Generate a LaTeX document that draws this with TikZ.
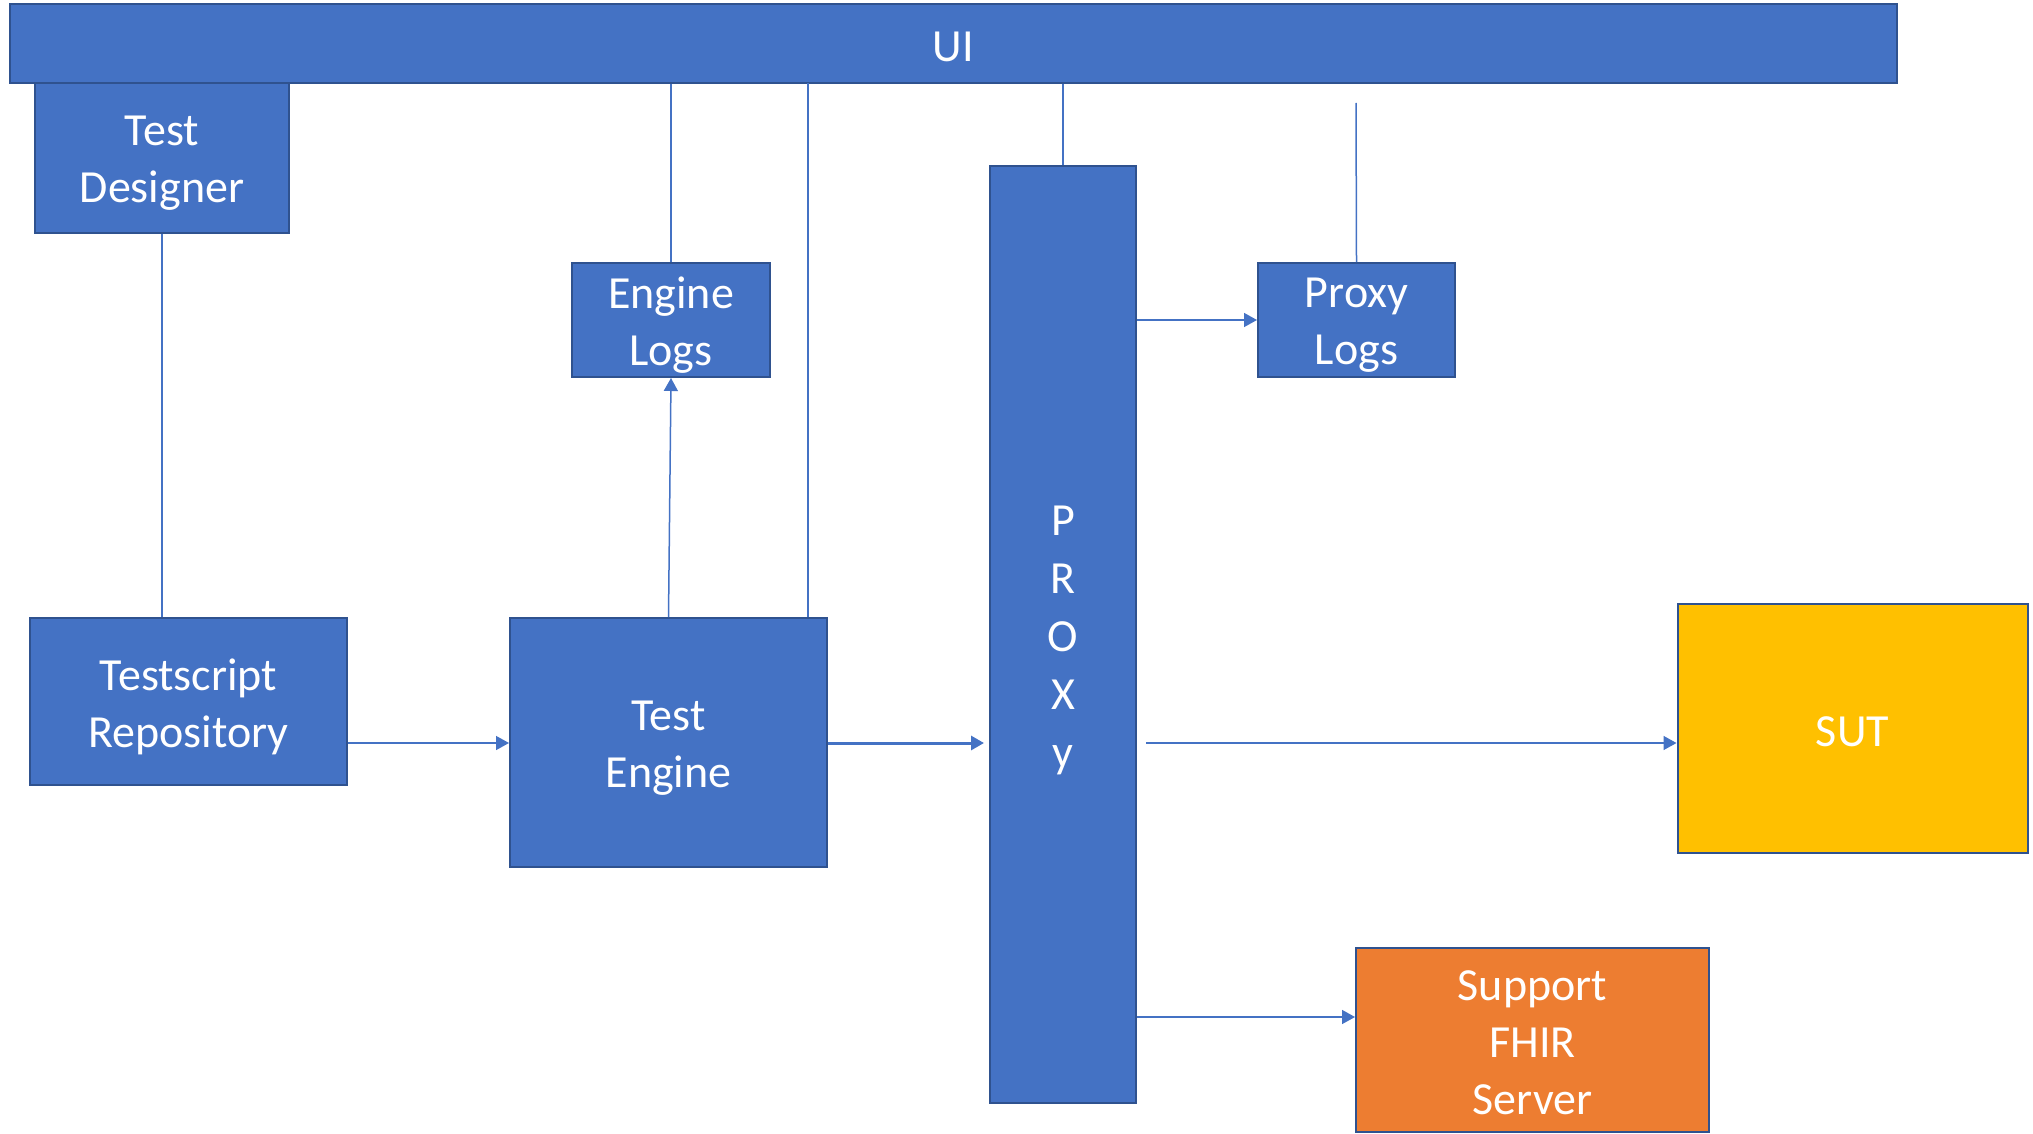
\documentclass[tikz,border=0pt]{standalone}
\usepackage{fontspec}
\setmainfont{Carlito}
\usetikzlibrary{arrows.meta}
\definecolor{boxblue}{HTML}{4472C4}
\definecolor{edgeblue}{HTML}{2F528F}
\definecolor{sutyellow}{HTML}{FFC000}
\definecolor{fhirorange}{HTML}{ED7D31}
\tikzset{
  blk/.style={draw=edgeblue, line width=2pt, fill=boxblue, inner sep=0pt},
  lab/.style={text=white, inner sep=0pt, align=center, font=\fontsize{46}{57}\selectfont},
  conn/.style={draw=boxblue, line width=1.5pt},
  arr/.style={conn, -{Triangle[length=13pt,width=14pt]}},
}
\begin{document}
\begin{tikzpicture}[x=1pt,y=-1pt]
\useasboundingbox (0,0) rectangle (2033,1134);
% boxes
\node[blk, minimum width=1887pt, minimum height=79pt] (UI) at (953.5,43.5) {};
\node[blk, minimum width=254pt, minimum height=150pt] (TD) at (162,158) {};
\node[blk, minimum width=198pt, minimum height=114pt] (EL) at (671,320) {};
\node[blk, minimum width=197pt, minimum height=114pt] (PL) at (1356.5,320) {};
\node[blk, minimum width=146pt, minimum height=937pt] (PX) at (1063,634.5) {};
\node[blk, minimum width=317pt, minimum height=167pt] (TR) at (188.5,701.5) {};
\node[blk, minimum width=317pt, minimum height=249pt] (TE) at (668.5,742.5) {};
\node[blk, fill=sutyellow, minimum width=350pt, minimum height=249pt] (SUT) at (1852.5,728.5) {};
\node[blk, fill=fhirorange, minimum width=353pt, minimum height=184pt] (FH) at (1532.5,1040) {};
% labels
\node[lab] (UIt) at ([yshift=-3pt]UI.center) {UI};
\node[lab] (TDt) at ([yshift=-5pt]TD.center) {Test\\Designer};
\node[lab] (ELt) at ([yshift=-5pt]EL.center) {Engine\\Logs};
\node[lab] (PLt) at ([yshift=-5pt]PL.center) {Proxy\\Logs};
\node[lab, font=\fontsize{46}{58}\selectfont] (PXt) at ([yshift=-6pt]PX.center) {P\\R\\O\\X\\y};
\node[lab] (TRt) at ([yshift=-5pt]TR.center) {Testscript\\Repository};
\node[lab] (TEt) at ([yshift=-6pt]TE.center) {Test\\Engine};
\node[lab] (SUTt) at ([yshift=-3pt]SUT.center) {SUT};
\node[lab] (FHt) at ([yshift=-3pt]FH.center) {Support\\FHIR\\Server};
% coordinates
\coordinate (teUI) at (808,83);
\coordinate (plTop) at (1356,103);
\coordinate (pxOut) at (1146,743);
% connectors
\draw[conn] (TD.south) -- (TD.south |- TR.north);
\draw[conn] (EL.north |- UI.south) -- (EL.north);
\draw[arr] (TE.north) -- (EL.south);
\draw[conn] (teUI) -- (teUI |- TE.north);
\draw[conn] (PX.north |- UI.south) -- (PX.north);
\draw[conn] (plTop) -- (PL.north);
\draw[arr] (PX.east |- PL.west) -- (PL.west);
\draw[arr] (TR.east |- 0,743) -- (TE.west |- 0,743);
\draw[conn, line width=3pt, -{Triangle[length=13pt,width=14pt]}] (TE.east |- 0,743) -- ([xshift=-5pt]PX.west |- 0,743);
\draw[arr] (pxOut) -- (SUT.west |- pxOut);
\draw[arr] (PX.east |- 0,1017) -- (FH.west |- 0,1017);
\end{tikzpicture}
\end{document}
